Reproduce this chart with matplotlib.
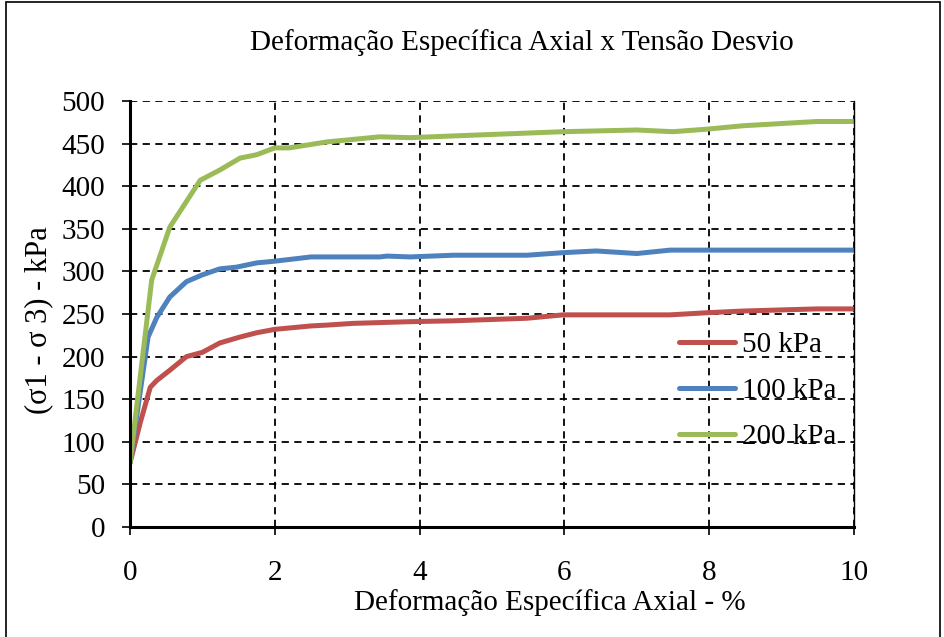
import numpy as np
import matplotlib.pyplot as plt
from matplotlib.patches import Rectangle

plt.rcParams['font.family'] = ['Liberation Serif', 'DejaVu Serif']

# data (strain %, deviator stress kPa)
x_50 = [0, 0.14, 0.28, 0.37, 0.55, 0.78, 1.0, 1.24, 1.52, 1.75, 2.0, 2.5, 2.72, 3.08,
        3.87, 4.46, 5.48, 5.98, 7.46, 7.97, 8.47, 9.49, 10]
y_50 = [75, 122, 164, 172, 184, 200, 205, 216, 223, 228, 232, 236, 237, 239,
        241, 242, 245, 249, 249, 251.5, 253.5, 256, 256]

x_100 = [0, 0.25, 0.37, 0.55, 0.78, 1.0, 1.24, 1.47, 1.75, 2.0, 2.5, 3.45, 3.55,
         3.87, 4.46, 5.48, 5.98, 6.44, 7.0, 7.46, 8.0, 10]
y_100 = [75, 223, 246, 270, 288, 296, 303, 305, 310, 312, 317, 317, 318,
         317, 319, 319, 322, 324, 321, 325, 325, 325]

x_200 = [0, 0.3, 0.55, 0.97, 1.24, 1.52, 1.75, 2.0, 2.2, 2.72, 3.45, 3.87,
         4.46, 5.98, 7.0, 7.5, 7.97, 8.47, 9.49, 10]
y_200 = [75, 290, 352, 407, 419, 433, 437, 445, 445, 452, 458, 457,
         459, 464, 466, 464, 467, 471, 476, 476]

labels = ['50 kPa', '100 kPa', '200 kPa']
colors = ['#C0504D', '#4F81BD', '#9BBB59']

fig = plt.figure(figsize=(9.44, 6.37), dpi=100)
ax = fig.add_axes([0.1377, 0.1727, 0.767, 0.6687])

for xs, ys, lab, c in zip([x_50, x_100, x_200], [y_50, y_100, y_200], labels, colors):
    ax.plot(xs, ys, color=c, lw=3.6, label=lab, solid_capstyle='round')

ax.set_xlim(0, 10)
ax.set_ylim(0, 500)
ax.set_xticks(np.arange(0, 11, 2))
ax.set_yticks(np.arange(0, 501, 50))
ax.grid(True, color='black', linestyle=(0, (4, 3)), linewidth=1.3)
ax.spines['top'].set_visible(False)
ax.spines['right'].set_linewidth(1.0)
ax.spines['left'].set_linewidth(2.2)
ax.spines['bottom'].set_linewidth(2.2)
ax.tick_params(axis='both', direction='out', length=6, width=1.2, labelsize=21)
ax.tick_params(axis='x', pad=18)
ax.tick_params(axis='y', pad=12)

ax.set_xlabel('Deformação Específica Axial - %', fontsize=21, labelpad=2)
ax.xaxis.label.set_x(0.58)
ax.set_ylabel('(σ1 - σ 3) - kPa', fontsize=22)
ax.yaxis.set_label_coords(-0.106, 0.485)
fig.text(0.553, 0.934, 'Deformação Específica Axial x Tensão Desvio', fontsize=21,
         ha='center', va='center')

ax.legend(loc='upper left', bbox_to_anchor=(0.692, 0.52), bbox_transform=fig.transFigure,
          frameon=False, fontsize=21, handlelength=1.9, handletextpad=0.24, labelspacing=0.67)

fig.add_artist(Rectangle((0.006, -0.01), 0.99, 1.007, transform=fig.transFigure,
                         fill=False, edgecolor='black', linewidth=1.2))

fig.savefig('out.png', dpi=100)
